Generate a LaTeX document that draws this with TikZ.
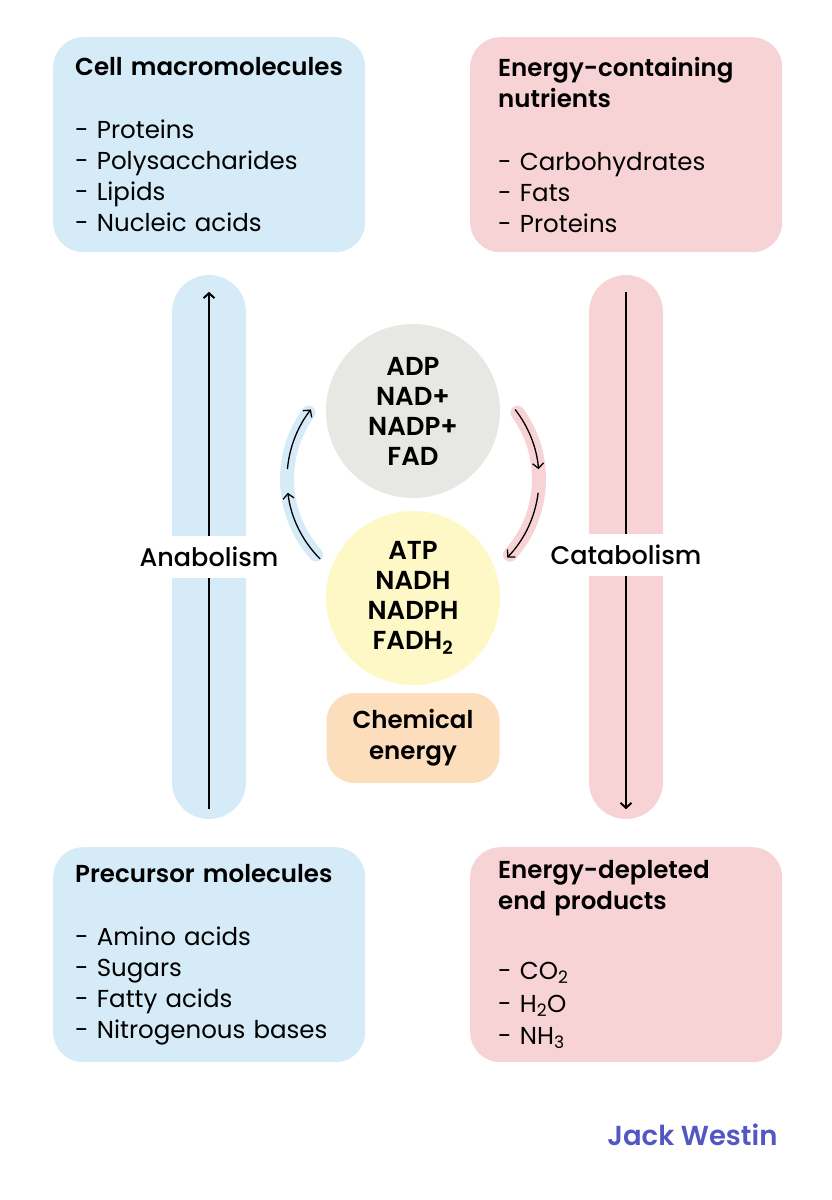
\documentclass[tikz,border=0pt]{standalone}
\usepackage{fontspec}
\setmainfont{Poppins}[BoldFont={Poppins SemiBold}]
\newfontfamily\mediumfont{Poppins Medium}
\definecolor{pale-blue}{RGB}{213,235,247}
\definecolor{pale-pink}{RGB}{248,211,213}
\definecolor{pale-grey}{RGB}{231,231,228}
\definecolor{pale-yellow}{RGB}{254,248,198}
\definecolor{pale-orange}{RGB}{253,222,188}
\definecolor{westin-blue}{RGB}{83,87,194}
\usetikzlibrary{calc}
\usetikzlibrary{arrows.meta}
\usetikzlibrary{positioning}
\begin{document}
\begin{tikzpicture}[%
            x=1pt,y=-1pt,
            >={Straight Barb[length=5pt,width=11pt]},
            font=\fontsize{24.5}{31}\selectfont,
            panel/.style={rounded corners=30pt,anchor=north west,
              minimum width=312pt,minimum height=215pt,
              text width=268pt,inner xsep=22pt,align=left},
            right panel/.style={panel,text width=256pt,inner xsep=28pt},
            bar/.style={rounded corners=37pt,
              minimum width=74pt,minimum height=544pt},
            pathway/.style={fill=white,minimum height=42pt,inner xsep=2pt,
              font=\mediumfont\fontsize{25.5}{31}\selectfont},
            carrier/.style={circle,minimum size=174pt,align=center,
              font=\bfseries\fontsize{26}{30}\selectfont},
            band/.style={line width=14pt,line cap=round},
            flow/.style={->,line width=1.3pt}
          ]
            \useasboundingbox (0,0) rectangle (832,1200);

            % boxes in the corners
            \node [panel,fill=pale-blue] (macromolecules) at (53,37)
              {\textbf{Cell macromolecules}\\[32pt]
               - Proteins\\- Polysaccharides\\- Lipids\\- Nucleic acids};
            \node [right panel,fill=pale-pink] (nutrients) at (470,37)
              {\textbf{Energy-containing}\\\textbf{nutrients}\\[32pt]
               - Carbohydrates\\- Fats\\- Proteins};
            \node [panel,fill=pale-blue] (precursors) at (53,847)
              {\textbf{Precursor molecules}\\[32pt]
               - Amino acids\\- Sugars\\- Fatty acids\\- Nitrogenous bases};
            \node [right panel,fill=pale-pink] (products) at (470,847)
              {\textbf{Energy-depleted}\\\textbf{end products}\\[39pt]
               - CO\textsubscript{2}\\[2pt]- H\textsubscript{2}O\\[1pt]- NH\textsubscript{3}};

            % the two pathways
            \node [bar,fill=pale-blue] (anabar) at (209,547) {};
            \node [bar,fill=pale-pink] (catabar) at (626,547) {};
            \draw [->,line width=2pt] ([yshift=10pt]anabar.south) -- ([yshift=-17pt]anabar.north);
            \draw [->,line width=2pt] ([yshift=-17pt]catabar.north) -- ([yshift=10pt]catabar.south);
            \node [pathway] (anabolism) at (209,557) {Anabolism};
            \node [pathway] (catabolism) at (626,555) {Catabolism};

            % energy carriers
            \node [carrier,fill=pale-grey] (oxidized) at (413,411) {ADP\\NAD+\\NADP+\\FAD};
            \node [carrier,fill=pale-yellow] (reduced) at (413,598) {ATP\\NADH\\NADPH\\FADH\textsubscript{2}};
            \node [rounded corners=28pt,fill=pale-orange,minimum width=173pt,minimum height=90pt,
              align=center,font=\bfseries\fontsize{24.5}{31}\selectfont] (chemical) at (413,738)
              {Chemical\\energy};

            % cycle between the carriers
            \coordinate (lc) at (400,479);
            \coordinate (rc) at (426,479);
            \draw [band,pale-blue] ([shift={(138:113)}]lc) arc [start angle=138,end angle=216,radius=113];
            \draw [flow] ([shift={(135:113)}]lc) arc [start angle=135,end angle=173,radius=113];
            \draw [flow] ([shift={(185:113)}]lc) arc [start angle=185,end angle=218,radius=113];
            \draw [band,pale-pink] ([shift={(-36:113)}]rc) arc [start angle=-36,end angle=42,radius=113];
            \draw [flow] ([shift={(-38:113)}]rc) arc [start angle=-38,end angle=-5,radius=113];
            \draw [flow] ([shift={(7:113)}]rc) arc [start angle=7,end angle=44,radius=113];

            \node [anchor=east,text=westin-blue,font=\bfseries\fontsize{27.5}{30}\selectfont] (brand) at (781,1135) {Jack Westin};
          \end{tikzpicture}
\end{document}
